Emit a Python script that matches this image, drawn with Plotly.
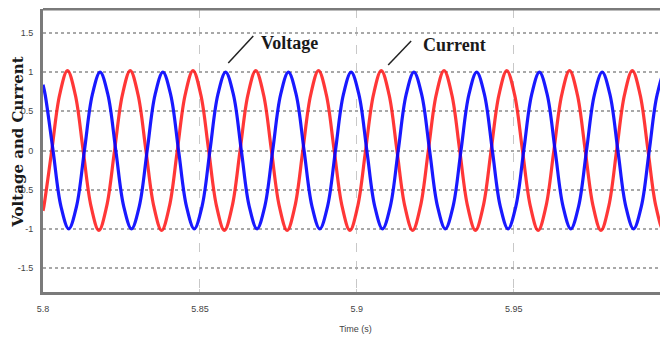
import plotly.graph_objects as go

# ---- data ----
volt_time = [5.8, 5.8007, 5.8032, 5.8057, 5.8082, 5.8107, 5.8132, 5.8157, 5.8182,
             5.8207, 5.8232, 5.8257, 5.8282, 5.8307, 5.8332, 5.8357, 5.8382,
             5.8407, 5.8432, 5.8457, 5.8482, 5.8507, 5.8532, 5.8557, 5.8582,
             5.8607, 5.8632, 5.8657, 5.8682, 5.8707, 5.8732, 5.8757, 5.8782,
             5.8807, 5.8832, 5.8857, 5.8882, 5.8907, 5.8932, 5.8957, 5.8982,
             5.9007, 5.9032, 5.9057, 5.9082, 5.9107, 5.9132, 5.9157, 5.9182,
             5.9207, 5.9232, 5.9257, 5.9282, 5.9307, 5.9332, 5.9357, 5.9382,
             5.9407, 5.9432, 5.9457, 5.9482, 5.9507, 5.9532, 5.9557, 5.9582,
             5.9607, 5.9632, 5.9657, 5.9682, 5.9707, 5.9732, 5.9757, 5.9782,
             5.9807, 5.9832, 5.9857, 5.9882, 5.9907, 5.9932, 5.9957, 5.9982,
             6.0007]
volt_value = [0.84, 0.71, 0.0, -0.71, -1.0, -0.71, 0.0, 0.71, 1.0,
              0.71, 0.0, -0.71, -1.0, -0.71, 0.0, 0.71, 1.0,
              0.71, 0.0, -0.71, -1.0, -0.71, 0.0, 0.71, 1.0,
              0.71, 0.0, -0.71, -1.0, -0.71, 0.0, 0.71, 1.0,
              0.71, 0.0, -0.71, -1.0, -0.71, 0.0, 0.71, 1.0,
              0.71, 0.0, -0.71, -1.0, -0.71, 0.0, 0.71, 1.0,
              0.71, 0.0, -0.71, -1.0, -0.71, 0.0, 0.71, 1.0,
              0.71, 0.0, -0.71, -1.0, -0.71, 0.0, 0.71, 1.0,
              0.71, 0.0, -0.71, -1.0, -0.71, 0.0, 0.71, 1.0,
              0.71, 0.0, -0.71, -1.0, -0.71, 0.0, 0.71, 1.0,
              0.71]

curr_time = [5.8, 5.8003, 5.8028, 5.8053, 5.8078, 5.8103, 5.8128, 5.8153, 5.8178,
             5.8203, 5.8228, 5.8253, 5.8278, 5.8303, 5.8328, 5.8353, 5.8378,
             5.8403, 5.8428, 5.8453, 5.8478, 5.8503, 5.8528, 5.8553, 5.8578,
             5.8603, 5.8628, 5.8653, 5.8678, 5.8703, 5.8728, 5.8753, 5.8778,
             5.8803, 5.8828, 5.8853, 5.8878, 5.8903, 5.8928, 5.8953, 5.8978,
             5.9003, 5.9028, 5.9053, 5.9078, 5.9103, 5.9128, 5.9153, 5.9178,
             5.9203, 5.9228, 5.9253, 5.9278, 5.9303, 5.9328, 5.9353, 5.9378,
             5.9403, 5.9428, 5.9453, 5.9478, 5.9503, 5.9528, 5.9553, 5.9578,
             5.9603, 5.9628, 5.9653, 5.9678, 5.9703, 5.9728, 5.9753, 5.9778,
             5.9803, 5.9828, 5.9853, 5.9878, 5.9903, 5.9928, 5.9953, 5.9978,
             6.0003]
curr_value = [-0.77, -0.71, 0.0, 0.71, 1.02, 0.71, 0.0, -0.71, -1.02,
              -0.71, 0.0, 0.71, 1.02, 0.71, 0.0, -0.71, -1.02,
              -0.71, 0.0, 0.71, 1.02, 0.71, 0.0, -0.71, -1.02,
              -0.71, 0.0, 0.71, 1.02, 0.71, 0.0, -0.71, -1.02,
              -0.71, 0.0, 0.71, 1.02, 0.71, 0.0, -0.71, -1.02,
              -0.71, 0.0, 0.71, 1.02, 0.71, 0.0, -0.71, -1.02,
              -0.71, 0.0, 0.71, 1.02, 0.71, 0.0, -0.71, -1.02,
              -0.71, 0.0, 0.71, 1.02, 0.71, 0.0, -0.71, -1.02,
              -0.71, 0.0, 0.71, 1.02, 0.71, 0.0, -0.71, -1.02,
              -0.71, 0.0, 0.71, 1.02, 0.71, 0.0, -0.71, -1.02,
              -0.71]

x_ticks = [5.8, 5.85, 5.9, 5.95]
x_tick_labels = ["5.8", "5.85", "5.9", "5.95"]
x_edge_label = "6"
y_ticks = [-1.5, -1.0, -0.5, 0.0, 0.5, 1.0, 1.5]
y_tick_labels = ["-1.5", "-1", "-0.5", "0", "0.5", "1", "1.5"]

series_names = ["Current", "Voltage"]

# ---- figure ----
# The page body has an 8px default margin, so the figure is sized to the visible area.
tick_font = dict(family="Liberation Sans Narrow, Arial Narrow, Liberation Sans, sans-serif",
                 size=9, color="#444")
serif_bold = "Liberation Serif, Times New Roman, serif"
wide_serif = "DejaVu Serif, serif"

fig = go.Figure()
fig.add_trace(go.Scatter(x=curr_time, y=curr_value, mode="lines", name=series_names[0],
                         line=dict(color="rgba(255,20,20,0.85)", width=3.2, shape="spline", smoothing=1.0)))
fig.add_trace(go.Scatter(x=volt_time, y=volt_value, mode="lines", name=series_names[1],
                         line=dict(color="rgba(0,0,255,0.9)", width=3.2, shape="spline", smoothing=1.0)))

fig.update_layout(
    width=660, height=329,
    margin=dict(l=35, r=0, t=1, b=45, autoexpand=False),
    paper_bgcolor="white", plot_bgcolor="white",
    showlegend=False,
    xaxis=dict(range=[5.8, 5.99917], tickvals=x_ticks, ticktext=x_tick_labels,
               tickfont=tick_font, showgrid=True, gridcolor="#c8c8c8", griddash="dash",
               gridwidth=1, zeroline=False, showline=True, linecolor="#7a7a7a", linewidth=3,
               ticks="inside", ticklen=3, tickcolor="#cccccc", ticklabelstandoff=6,
               automargin=False,
               title=dict(text="Time (s)", font=tick_font, standoff=13)),
    yaxis=dict(range=[-1.806, 1.806], tickvals=y_ticks, ticktext=y_tick_labels,
               tickfont=tick_font, showgrid=True, gridcolor="#a8a8a8", griddash="dot",
               gridwidth=1.5, zeroline=False, showline=True, linecolor="#7a7a7a", linewidth=3,
               ticklabelstandoff=5, automargin=False),
)

# top border
fig.add_shape(type="line", xref="paper", yref="paper", x0=0, x1=1, y0=1, y1=1,
              line=dict(color="#7a7a7a", width=3))

# y axis title
fig.add_annotation(text="<b>Voltage and Current</b>", xref="paper", yref="y", x=0, y=0.1,
                   xshift=-25, xanchor="center", yanchor="middle", textangle=-90,
                   showarrow=False, font=dict(family=wide_serif, size=15, color="#1a1a1a"))

# series labels with leader lines
fig.add_annotation(text="<b>Voltage</b>", xref="x", yref="y", x=5.8688, y=1.372,
                   xanchor="left", yanchor="middle", showarrow=False,
                   font=dict(family=serif_bold, size=18, color="#1a1a1a"))
fig.add_annotation(text="<b>Current</b>", xref="x", yref="y", x=5.9203, y=1.347,
                   xanchor="left", yanchor="middle", showarrow=False,
                   font=dict(family=serif_bold, size=18, color="#1a1a1a"))
fig.add_shape(type="line", xref="x", yref="y", x0=5.85904, y0=1.117, x1=5.86701, y1=1.462,
              line=dict(color="#222", width=1.5))
fig.add_shape(type="line", xref="x", yref="y", x0=5.91000, y0=1.0915, x1=5.91732, y1=1.398,
              line=dict(color="#222", width=1.5))

# tick label at the cropped right edge (6.0 lies just past the visible area)
fig.add_annotation(text=x_edge_label, xref="paper", yref="paper", x=1, y=0, xshift=-1, yshift=-16,
                   xanchor="right", yanchor="middle", showarrow=False, font=tick_font)

fig.write_html("out.html")
